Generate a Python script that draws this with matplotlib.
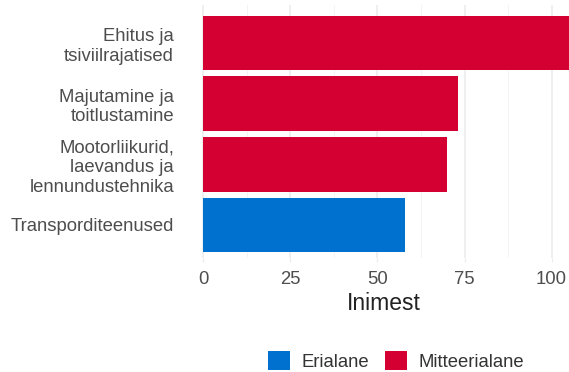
import matplotlib.pyplot as plt
from matplotlib.patches import Patch

categories = [
    "Transporditeenused",
    "Mootorliikurid,\nlaevandus ja\nlennundustehnika",
    "Majutamine ja\ntoitlustamine",
    "Ehitus ja\ntsiviilrajatised",
]
values = [58, 70, 73, 105]
groups = ["Erialane", "Mitteerialane", "Mitteerialane", "Mitteerialane"]
x_ticks = [0, 25, 50, 75, 100]
x_minor = [12.5, 37.5, 62.5, 87.5]

colors = {"Erialane": "#0071CE", "Mitteerialane": "#D40032"}

plt.rcParams["font.family"] = ["Liberation Sans", "DejaVu Sans"]

fig = plt.figure(figsize=(5.69, 3.72), dpi=100)
ax = fig.add_axes([0.3475, 0.306, 0.6525, 0.681])

ypos = list(range(len(categories)))
ax.barh(ypos, values, height=0.9, color=[colors[g] for g in groups], zorder=2)

ax.set_xlim(-1.6, 105)
ax.set_ylim(-0.55, 3.63)
ax.set_xticks(x_ticks)
ax.set_xticks(x_minor, minor=True)
ax.grid(axis="x", which="major", color="#ebebeb", lw=1.1, zorder=0)
ax.grid(axis="x", which="minor", color="#f2f2f2", lw=0.6, zorder=0)
ax.set_yticks(ypos)
ax.set_yticklabels(categories, linespacing=1.2)

ax.tick_params(axis="x", which="major", length=3, color="#ebebeb",
               labelsize=13.3, labelcolor="#4d4d4d", pad=6)
ax.tick_params(axis="x", which="minor", length=0)
ax.tick_params(axis="y", length=0, labelsize=13.3, labelcolor="#4d4d4d", pad=17)
for s in ax.spines.values():
    s.set_visible(False)

ax.set_xlabel("Inimest", fontsize=16.5, color="#222222", labelpad=3)

handles = [Patch(facecolor=colors[g], label=g) for g in ["Erialane", "Mitteerialane"]]
fig.legend(handles=handles, loc="center", bbox_to_anchor=(396 / 569, 0.03),
           ncol=2, frameon=False, fontsize=13.3, handlelength=1.2, handleheight=1.2,
           handletextpad=0.6, columnspacing=0.9, labelcolor="#333333")

fig.savefig("out.png", dpi=100)
